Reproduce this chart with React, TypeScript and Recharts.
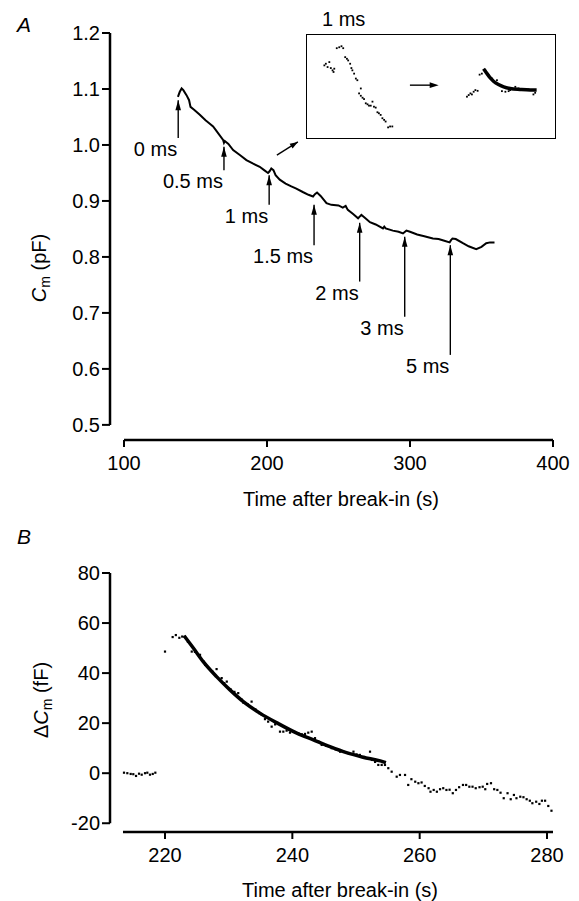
import React from "react";
import {
  ComposedChart,
  Line,
  Scatter,
  XAxis,
  YAxis,
  ReferenceLine,
  ReferenceDot,
} from "recharts";

const FONT = '"Liberation Sans", Arial, Helvetica, sans-serif';
const FS = 20;

// ---- Panel A: Cm trace after break-in (time s, Cm pF)
const traceA: [number, number][] = [
  [137.7, 1.086], [139.0, 1.095], [140.3, 1.101], [141.5, 1.098], [143.7, 1.089],
  [145.5, 1.08], [146.5, 1.068], [149.0, 1.063], [153.0, 1.054], [157.0, 1.044],
  [160.0, 1.038], [162.3, 1.033], [165.0, 1.024], [169.3, 1.009], [169.9, 1.004],
  [170.5, 1.007], [173.0, 1.002], [176.3, 0.991], [181.0, 0.982], [185.6, 0.973],
  [190.0, 0.967], [194.9, 0.961], [198.0, 0.955], [200.7, 0.95], [201.8, 0.953],
  [203.0, 0.958], [204.5, 0.955], [206.0, 0.946], [208.9, 0.938], [213.0, 0.931],
  [217.0, 0.926], [220.5, 0.922], [225.0, 0.916], [229.0, 0.911], [232.2, 0.908],
  [233.5, 0.912], [235.0, 0.915], [237.5, 0.909], [241.6, 0.896], [245.0, 0.893],
  [250.0, 0.892], [253.0, 0.888], [255.0, 0.891], [256.5, 0.884], [260.0, 0.877],
  [263.7, 0.869], [264.8, 0.872], [266.0, 0.875], [268.0, 0.871], [272.0, 0.862],
  [276.0, 0.858], [281.1, 0.851], [282.0, 0.854], [283.0, 0.851], [288.0, 0.847],
  [292.0, 0.845], [295.1, 0.842], [296.5, 0.845], [297.5, 0.847], [300.0, 0.845],
  [305.0, 0.84], [310.0, 0.837], [316.0, 0.833], [320.0, 0.832], [324.0, 0.829],
  [327.7, 0.826], [328.7, 0.83], [329.7, 0.833], [332.0, 0.832], [337.0, 0.8245],
  [341.0, 0.819], [346.3, 0.814], [350.0, 0.818], [353.3, 0.8245], [356.0, 0.826],
  [359.1, 0.826],
];

// stimulus arrows (pulse duration, time, arrow tip / tail in pF)
const stimLabels = ["0 ms", "0.5 ms", "1 ms", "1.5 ms", "2 ms", "3 ms", "5 ms"];
const stimTimes = [137.9, 169.9, 201.5, 232.9, 264.8, 296.3, 328.2];
const arrowTip = [1.08, 0.997, 0.946, 0.893, 0.861, 0.836, 0.821];
const arrowTail = [1.0125, 0.955, 0.893, 0.821, 0.756, 0.693, 0.625];

const aTicksX = [100, 200, 300, 400];
const aTicksY = [0.5, 0.6, 0.7, 0.8, 0.9, 1.0, 1.1, 1.2];
const A_XMIN = 90.2;
const A_YMIN = 0.473;

// ---- Inset (arbitrary units)
const insetBefore: [number, number][] = [
  [7.0, 70.5], [7.6, 72.1], [9.0, 73.7], [8.3, 68.9], [9.6, 67.9], [10.3, 65.7],
  [11.0, 67.3], [10.7, 64.1], [12.0, 87.2], [13.0, 88.1], [13.9, 89.1], [14.6, 87.2],
  [15.4, 78.5], [16.1, 76.9], [16.6, 75.3], [17.4, 72.1], [17.9, 67.9], [18.3, 65.7],
  [19.0, 62.5], [19.7, 57.7], [20.3, 56.1], [21.7, 48.1], [21.0, 43.3], [21.7, 41.0],
  [22.4, 39.1], [23.0, 37.8], [23.7, 33.7], [24.4, 32.7], [25.0, 31.4], [25.7, 31.4],
  [26.4, 35.3], [27.0, 30.4], [27.7, 29.5], [28.4, 25.0], [29.0, 24.0], [29.7, 22.4],
  [30.4, 19.2], [31.1, 17.6], [31.7, 16.0], [32.7, 10.3], [33.5, 11.2], [34.4, 11.2],
];
const insetAfter: [number, number][] = [
  [64.5, 40.1], [65.2, 41.7], [65.9, 43.3], [66.5, 42.3], [67.2, 44.9], [67.9, 46.5],
  [68.8, 45.8], [69.6, 61.5], [70.5, 62.5], [71.9, 65.7], [73.2, 60.9], [74.6, 57.7],
  [75.9, 54.5], [76.6, 56.1], [78.6, 45.5], [80.0, 44.9], [81.3, 45.5], [81.9, 46.5],
  [84.0, 49.7], [85.3, 48.1], [87.3, 47.4], [89.3, 47.1], [91.3, 42.3], [92.0, 43.9],
];
const insetFit: [number, number][] = [
  [71.2, 67.3], [72.6, 62.5], [73.9, 58.3], [75.2, 55.1], [77.2, 51.9], [79.3, 49.7],
  [81.9, 48.1], [85.9, 47.1], [90.0, 46.5], [92.6, 46.5],
];

// ---- Panel B: delta Cm around the 1 ms pulse (time s, fF)
const bBaseline: [number, number][] = [
  [213.56, 0.2], [214.08, 0], [214.61, -0.3], [215.02, -0.4], [215.45, -1.1],
  [215.92, -0.2], [216.34, -0.6], [216.86, 0], [217.22, 0.2], [217.64, -0.6],
  [218.07, -0.3], [218.48, 0.2],
];
const bResponse: [number, number][] = [
  [220.0, 48.6], [221.2, 54.4], [221.7, 55.2], [222.25, 54.1], [222.7, 54.6],
  [223.1, 54.5], [223.6, 52.5], [224.2, 48.6], [224.7, 48.5], [225.5, 47.3],
  [226.0, 44.8], [226.3, 43.3], [226.9, 42.0], [227.5, 40.5], [228.1, 41.6],
  [228.9, 38.0], [229.3, 36.0], [229.7, 36.6], [230.3, 33.5], [230.9, 32.5],
  [231.5, 32.0], [232.0, 29.5], [232.3, 28.2], [233.0, 27.5], [233.6, 28.6],
  [234.2, 25.5], [234.8, 24.0], [235.2, 23.3], [235.7, 21.6], [236.2, 20.6],
  [236.75, 18.6], [237.3, 19.5], [238.06, 16.6], [238.58, 16.6], [239.1, 17.0],
  [239.63, 16.2], [240.3, 16.5], [240.94, 16.0], [241.5, 15.5], [241.99, 15.7],
  [242.5, 16.2], [243.04, 16.6], [243.56, 14.0], [244.1, 12.6], [244.61, 11.3],
  [245.3, 11.0], [246.18, 10.0], [246.8, 9.5], [247.5, 8.6], [248.1, 8.5],
  [248.8, 8.0], [249.6, 8.6], [250.1, 7.5], [250.6, 7.3], [251.3, 6.5],
  [252.2, 8.6], [252.5, 5.3], [253.0, 4.5], [253.5, 3.3], [254.03, 3.3],
  [254.55, 3.3],
];
const bRecovery: [number, number][] = [
  [255.07, 2.0], [255.6, 0.6], [256.39, -1.4], [256.9, -0.7], [257.7, -0.7],
  [258.2, -4.7], [258.7, -2.4], [259.3, -3.4], [259.8, -4.0], [260.3, -3.7],
  [260.8, -5.1], [261.4, -6.0], [261.7, -7.4], [262.2, -6.7], [262.7, -7.4],
  [263.2, -6.4], [263.7, -6.0], [264.2, -6.7], [264.7, -6.6], [265.2, -8.0],
  [265.7, -6.7], [266.2, -5.6], [266.8, -4.7], [267.3, -4.7], [267.8, -5.4],
  [268.3, -5.4], [268.8, -6.0], [269.4, -5.6], [269.9, -5.4], [270.3, -6.4],
  [270.6, -4.3], [271.2, -4.0], [271.7, -6.4], [272.2, -6.7], [272.7, -7.8],
  [273.2, -10.0], [273.8, -8.0], [274.3, -10.4], [274.8, -8.7], [275.2, -10.0],
  [275.8, -9.4], [276.3, -9.6], [276.8, -10.4], [277.3, -11.0], [277.7, -12.0],
  [278.3, -11.4], [278.8, -12.3], [279.2, -11.0], [279.7, -11.0], [280.2, -13.1],
  [280.7, -15.0],
];
// exponential fit drawn through the response
const bFit: [number, number][] = [
  [223.0, 54.9], [224.45, 50.0], [226.0, 44.6], [228.1, 38.6], [230.2, 33.3],
  [232.3, 28.6], [234.9, 24.0], [237.8, 19.8], [240.7, 16.0], [243.3, 13.3],
  [245.9, 10.6], [248.5, 8.2], [251.1, 6.4], [253.8, 4.9], [254.7, 4.2],
];

const bTicksX = [220, 240, 260, 280];
const bTicksY = [-20, 0, 20, 40, 60, 80];
const B_XMIN = 211.36;
const B_XMAX = 280.94;
const B_YMIN = -23.5;

const toPts = (arr: [number, number][]) => arr.map(([t, v]) => ({ t, v }));

const tickStyle = { fill: "#000", fontSize: FS, fontFamily: FONT };
const tickLineStyle = { stroke: "#000", strokeWidth: 2 };

const Dot = (p: any) => (
  <rect x={p.cx - 1.1} y={p.cy - 1.1} width={2.2} height={2.2} fill="#000" />
);
const SmallDot = (p: any) => (
  <rect x={p.cx - 0.9} y={p.cy - 0.9} width={1.8} height={1.8} fill="#000" />
);

const UpHead = (p: any) => (
  <polygon
    points={`${p.cx},${p.cy} ${p.cx - 2.8},${p.cy + 10} ${p.cx + 2.8},${p.cy + 10}`}
    fill="#000"
  />
);

const RightHead = (p: any) => (
  <polygon
    points={`${p.cx},${p.cy} ${p.cx - 9},${p.cy - 2.8} ${p.cx - 9},${p.cy + 2.8}`}
    fill="#000"
  />
);

const DiagHead = (p: any) => (
  <polygon
    points="0,0 -8,-2.8 -8,2.8"
    fill="#000"
    transform={`translate(${p.cx},${p.cy}) rotate(-32)`}
  />
);

const stimLabel = (text: string) => (p: any) => (
  <text
    x={p.cx - 1}
    y={p.cy + 18}
    textAnchor="end"
    fontSize={FS}
    fontFamily={FONT}
    fill="#000"
  >
    {text}
  </text>
);

const PanelA = () => (
  <ComposedChart
    width={579}
    height={520}
    margin={{ top: 33, right: 26, bottom: 0, left: 0 }}
  >
    <XAxis
      type="number"
      dataKey="t"
      domain={[A_XMIN, 400]}
      allowDataOverflow
      ticks={aTicksX}
      axisLine={false}
      tickLine={tickLineStyle}
      tickSize={7}
      tickMargin={9}
      tick={tickStyle}
      height={80}
    />
    <YAxis
      type="number"
      dataKey="v"
      domain={[A_YMIN, 1.2]}
      allowDataOverflow
      ticks={aTicksY}
      tickFormatter={(v: number) => v.toFixed(1)}
      axisLine={false}
      tickLine={tickLineStyle}
      tickSize={8}
      tick={tickStyle}
      width={110}
    />
    <ReferenceLine
      segment={[{ x: A_XMIN, y: 0.5 }, { x: A_XMIN, y: 1.2 }]}
      stroke="#000"
      strokeWidth={2.5}
      ifOverflow="visible"
    />
    <ReferenceLine
      segment={[{ x: 100, y: A_YMIN }, { x: 400, y: A_YMIN }]}
      stroke="#000"
      strokeWidth={2.5}
      ifOverflow="visible"
    />
    <Line
      data={toPts(traceA)}
      dataKey="v"
      type="linear"
      stroke="#000"
      strokeWidth={2}
      dot={false}
      isAnimationActive={false}
    />
    {stimTimes.map((t, i) => (
      <ReferenceLine
        key={"s" + i}
        segment={[{ x: t, y: arrowTail[i] }, { x: t, y: arrowTip[i] }]}
        stroke="#000"
        strokeWidth={1.4}
      />
    ))}
    {stimTimes.map((t, i) => (
      <ReferenceDot key={"h" + i} x={t} y={arrowTip[i]} r={1} shape={UpHead} />
    ))}
    {stimTimes.map((t, i) => (
      <ReferenceDot
        key={"l" + i}
        x={t}
        y={arrowTail[i]}
        r={1}
        shape={stimLabel(stimLabels[i])}
      />
    ))}
    {/* pointer to the inset */}
    <ReferenceLine
      segment={[{ x: 206.9, y: 0.982 }, { x: 221.6, y: 1.0054 }]}
      stroke="#000"
      strokeWidth={1.4}
    />
    <ReferenceDot x={221.6} y={1.0054} r={1} shape={DiagHead} />
  </ComposedChart>
);

const Inset = () => (
  <ComposedChart width={248} height={103} margin={{ top: 0, right: 0, bottom: 0, left: 0 }}>
    <XAxis type="number" dataKey="t" domain={[0, 100]} hide />
    <YAxis type="number" dataKey="v" domain={[0, 100]} hide />
    <Scatter data={toPts(insetBefore)} dataKey="v" shape={SmallDot} isAnimationActive={false} />
    <Scatter data={toPts(insetAfter)} dataKey="v" shape={SmallDot} isAnimationActive={false} />
    <Line
      data={toPts(insetFit)}
      dataKey="v"
      type="monotone"
      stroke="#000"
      strokeWidth={3.5}
      dot={false}
      isAnimationActive={false}
    />
    <ReferenceLine
      segment={[{ x: 41.5, y: 51.3 }, { x: 50, y: 51.3 }]}
      stroke="#000"
      strokeWidth={1.4}
    />
    <ReferenceDot x={53.1} y={51.3} r={1} shape={RightHead} />
  </ComposedChart>
);

const PanelB = () => (
  <ComposedChart
    width={579}
    height={361}
    margin={{ top: 33, right: 26, bottom: 0, left: 0 }}
  >
    <XAxis
      type="number"
      dataKey="t"
      domain={[B_XMIN, B_XMAX]}
      allowDataOverflow
      ticks={bTicksX}
      axisLine={false}
      tickLine={tickLineStyle}
      tickSize={7}
      tickMargin={9}
      tick={tickStyle}
      height={69}
    />
    <YAxis
      type="number"
      dataKey="v"
      domain={[B_YMIN, 80]}
      allowDataOverflow
      ticks={bTicksY}
      axisLine={false}
      tickLine={tickLineStyle}
      tickSize={8}
      tick={tickStyle}
      width={110}
    />
    <ReferenceLine
      segment={[{ x: B_XMIN, y: -20 }, { x: B_XMIN, y: 80 }]}
      stroke="#000"
      strokeWidth={2.5}
      ifOverflow="visible"
    />
    <ReferenceLine
      segment={[{ x: 213.4, y: B_YMIN }, { x: B_XMAX, y: B_YMIN }]}
      stroke="#000"
      strokeWidth={2.5}
      ifOverflow="visible"
    />
    <Scatter data={toPts(bBaseline)} dataKey="v" shape={Dot} isAnimationActive={false} />
    <Scatter data={toPts(bResponse)} dataKey="v" shape={Dot} isAnimationActive={false} />
    <Scatter data={toPts(bRecovery)} dataKey="v" shape={Dot} isAnimationActive={false} />
    <Line
      data={toPts(bFit)}
      dataKey="v"
      type="monotone"
      stroke="#000"
      strokeWidth={3.5}
      dot={false}
      isAnimationActive={false}
    />
  </ComposedChart>
);

const txt = { fontFamily: FONT, fontSize: FS, fill: "#000" };

export default function App() {
  return (
    <div
      style={{
        position: "absolute",
        left: 0,
        top: 0,
        width: 579,
        height: 901,
        background: "#fff",
        fontFamily: FONT,
      }}
    >
      <div style={{ position: "absolute", left: 0, top: 0 }}>
        <PanelA />
      </div>
      <div
        style={{
          position: "absolute",
          left: 306,
          top: 34,
          width: 250,
          height: 105,
          boxSizing: "border-box",
          border: "1px solid #000",
          background: "#fff",
        }}
      >
        <Inset />
      </div>
      <div style={{ position: "absolute", left: 0, top: 540 }}>
        <PanelB />
      </div>
      <svg
        width={579}
        height={901}
        style={{ position: "absolute", left: 0, top: 0, pointerEvents: "none" }}
      >
        <text x={17} y={32} {...txt} fontSize={21} fontStyle="italic">A</text>
        <text x={17} y={544} {...txt} fontSize={21} fontStyle="italic">B</text>
        <text x={322} y={26} {...txt}>1 ms</text>
        <text x={341} y={506} {...txt} textAnchor="middle">Time after break-in (s)</text>
        <text x={340} y={897} {...txt} textAnchor="middle">Time after break-in (s)</text>
        <text x={46} y={268} {...txt} textAnchor="middle" transform="rotate(-90 46 268)">
          <tspan fontStyle="italic">C</tspan>
          <tspan fontSize={14} dy={4}>m</tspan>
          <tspan dy={-4}> (pF)</tspan>
        </text>
        <text x={48} y={700} {...txt} textAnchor="middle" transform="rotate(-90 48 700)">
          <tspan>Δ</tspan>
          <tspan fontStyle="italic">C</tspan>
          <tspan fontSize={14} dy={4}>m</tspan>
          <tspan dy={-4}> (fF)</tspan>
        </text>
      </svg>
    </div>
  );
}
